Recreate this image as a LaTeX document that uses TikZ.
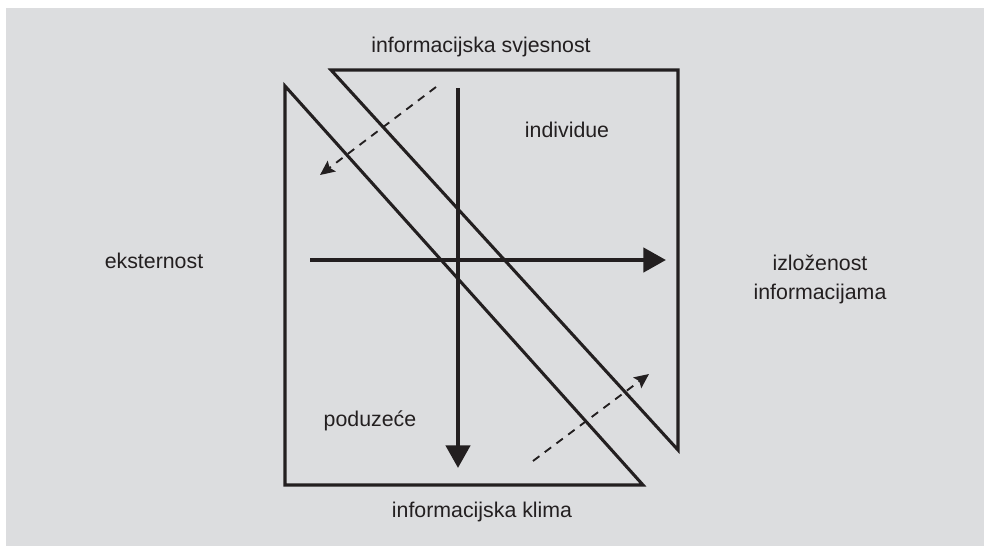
\documentclass[tikz,border=0pt]{standalone}
\usepackage{fontspec}
\setmainfont{Liberation Sans}
\usepackage{xcolor}
\usepackage{tikz}
\usetikzlibrary{arrows.meta,positioning,calc}
\definecolor{panel}{RGB}{220,221,223}
\definecolor{ink}{RGB}{35,31,32}

\begin{document}
\begin{tikzpicture}[x=0.75pt,y=-0.75pt,
    lbl/.style={anchor=base,text=ink,font=\fontsize{16}{19}\selectfont,inner sep=0pt},
    frame/.style={draw=ink,line width=2.3pt,line join=miter},
    axis/.style={draw=ink,line width=3.4pt,-{Triangle[length=17pt,width=18pt]}},
    flow/.style={draw=ink,line width=1.4pt,dash pattern=on 6pt off 5pt,-{Stealth[length=11pt,width=10pt,inset=2pt]}}]
    % background
    \useasboundingbox (0,0) rectangle (984,546);
    \fill[panel] (6,8) rectangle (984,546);

    % poduzece (left triangle)
    \draw[frame] (285,86) -- (285,485) -- (643,485) -- cycle;
    % individue (right triangle)
    \draw[frame] (331,70) -- (678,70) -- (678,450) -- cycle;

    % axes
    \coordinate (vtop) at (458,88);
    \coordinate (vbot) at (458,468);
    \coordinate (hleft) at (310,260);
    \coordinate (hright) at (666,260);
    \draw[axis] (vtop) -- (vbot);
    \draw[axis] (hleft) -- (hright);

    % dashed flows
    \coordinate (f1s) at (436,87);
    \coordinate (f1e) at (320,175);
    \coordinate (f2s) at (533,461);
    \coordinate (f2e) at (649,374);
    \draw[flow] (f1s) -- (f1e);
    \draw[flow] (f2s) -- (f2e);

    % labels
    \node[lbl] (svjesnost) at (481,52) {informacijska svjesnost};
    \node[lbl] (klima) at (482,517) {informacijska klima};
    \node[lbl] (eksternost) at (154,268) {eksternost};
    \node[lbl] (izlozenost) at (820,270) {izloženost};
    \node[lbl] (informacijama) at (820,299) {informacijama};
    \node[lbl] (individue) at (567,137) {individue};
    \node[lbl] (poduzece) at (370,426) {poduzeće};
\end{tikzpicture}
\end{document}
